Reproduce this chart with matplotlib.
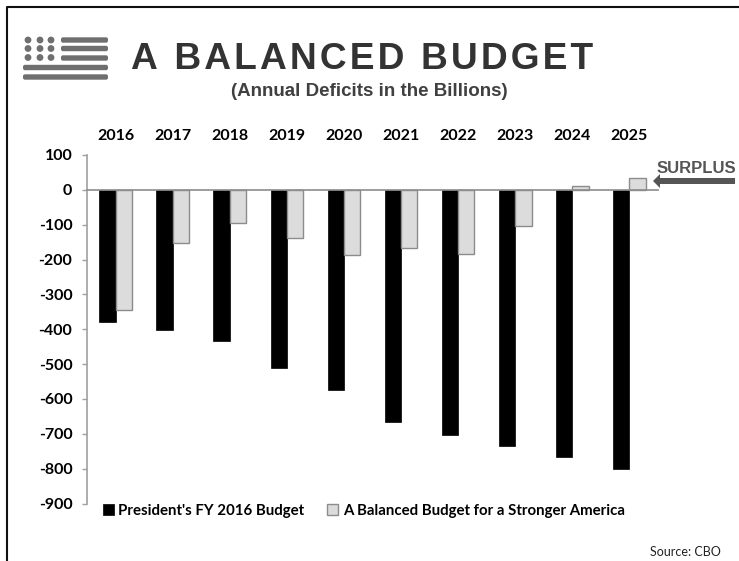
import numpy as np
import matplotlib
matplotlib.use("Agg")
import matplotlib.pyplot as plt
from matplotlib.patches import FancyBboxPatch, Circle, FancyArrow

# Data
years = ["2016", "2017", "2018", "2019", "2020", "2021", "2022", "2023", "2024", "2025"]
president = [-380, -401, -435, -511, -575, -667, -703, -734, -768, -801]
balanced = [-346, -152, -95, -137, -186, -168, -184, -105, 12, 33]
yticks = [100, 0, -100, -200, -300, -400, -500, -600, -700, -800, -900]

W, H = 739, 561
label_font = ["Lato", "DejaVu Sans"]
head_font = ["Liberation Sans", "DejaVu Sans"]

plt.rcParams["axes.unicode_minus"] = False
plt.rcParams["font.family"] = label_font
plt.rcParams["font.weight"] = "bold"

fig = plt.figure(figsize=(W / 100, H / 100), dpi=100)

# overlay in pixel coordinates for the frame, flag icon and arrow
bg = fig.add_axes([0, 0, 1, 1])
bg.set_xlim(0, W)
bg.set_ylim(H, 0)
bg.axis("off")
bg.plot([7, 7, W], [H, 6.5, 6.5], color="#111111", lw=1.5)

icon = "#6f6f6f"
for cx in [28, 40, 51]:
    for cy in [40, 48.5, 57.5]:
        bg.add_patch(Circle((cx, cy), 3.4, color=icon, lw=0))
for x0, cy in [(61, 40), (61, 48.5), (61, 58), (23, 67.5), (23, 77)]:
    bg.add_patch(FancyBboxPatch((x0 + 2, cy - 0.7), 108 - x0 - 4, 1.4,
                                boxstyle="round,pad=2", color=icon, lw=0))
bg.add_patch(FancyArrow(735, 181, -82, 0, width=6, head_width=14, head_length=7,
                        length_includes_head=True, color="#555555", lw=0))

# hair spaces give the title its letter spacing
title = "\u200a".join("A BALANCED BUDGET")
bg.text(362.5, 59.5, title, family=head_font, fontweight="bold",
        fontsize=26.7, color="#333333", ha="center", va="center")
bg.text(369, 91, "(Annual Deficits in the Billions)", family=head_font, fontweight="bold",
        fontsize=13.5, color="#404040", ha="center", va="center")
bg.text(696, 168.5, "SURPLUS", family=head_font, fontweight="bold",
        fontsize=12, color="#555555", ha="center", va="center")
bg.text(721, 552, "Source: CBO", family=label_font, fontweight="normal", fontsize=9,
        color="#222222", ha="right", va="center")

# chart
ax = fig.add_axes([87 / W, 1 - 503.5 / H, 571 / W, (503.5 - 155) / H])
ax.patch.set_alpha(0)
x = np.arange(len(years))
w = 0.285
b1 = ax.bar(x - w / 2, president, w, color="black", edgecolor="black", linewidth=0.5,
            label="President's FY 2016 Budget")
b2 = ax.bar(x + w / 2, balanced, w, color="#dcdcdc", edgecolor="#8c8c8c", linewidth=1,
            label="A Balanced Budget for a Stronger America")

ax.set_xlim(-0.5, len(years) - 0.5)
ax.set_ylim(-900, 100)
ax.set_yticks(yticks)
ax.set_xticks(x, years)
ax.xaxis.tick_top()
ax.tick_params(axis="x", length=0, pad=9, labelsize=11.5)
ax.tick_params(axis="y", length=3.6, width=1, color="#a0a0a0", pad=7, labelsize=11.5)

ax.spines["top"].set_visible(False)
ax.spines["right"].set_visible(False)
ax.spines["left"].set_color("#a0a0a0")
ax.spines["left"].set_linewidth(1.2)
ax.spines["bottom"].set_position(("data", 0))
ax.spines["bottom"].set_color("#8c8c8c")
ax.spines["bottom"].set_linewidth(1.2)

fig.legend(handles=[b1, b2], ncol=2, frameon=False,
           loc="center left", bbox_to_anchor=(89 / W, 1 - 510.5 / H),
           prop={"family": label_font, "weight": "bold", "size": 10.8},
           handlelength=0.75, handleheight=0.75, handletextpad=0.3, columnspacing=1.5)

fig.savefig("out.png", dpi=100)
